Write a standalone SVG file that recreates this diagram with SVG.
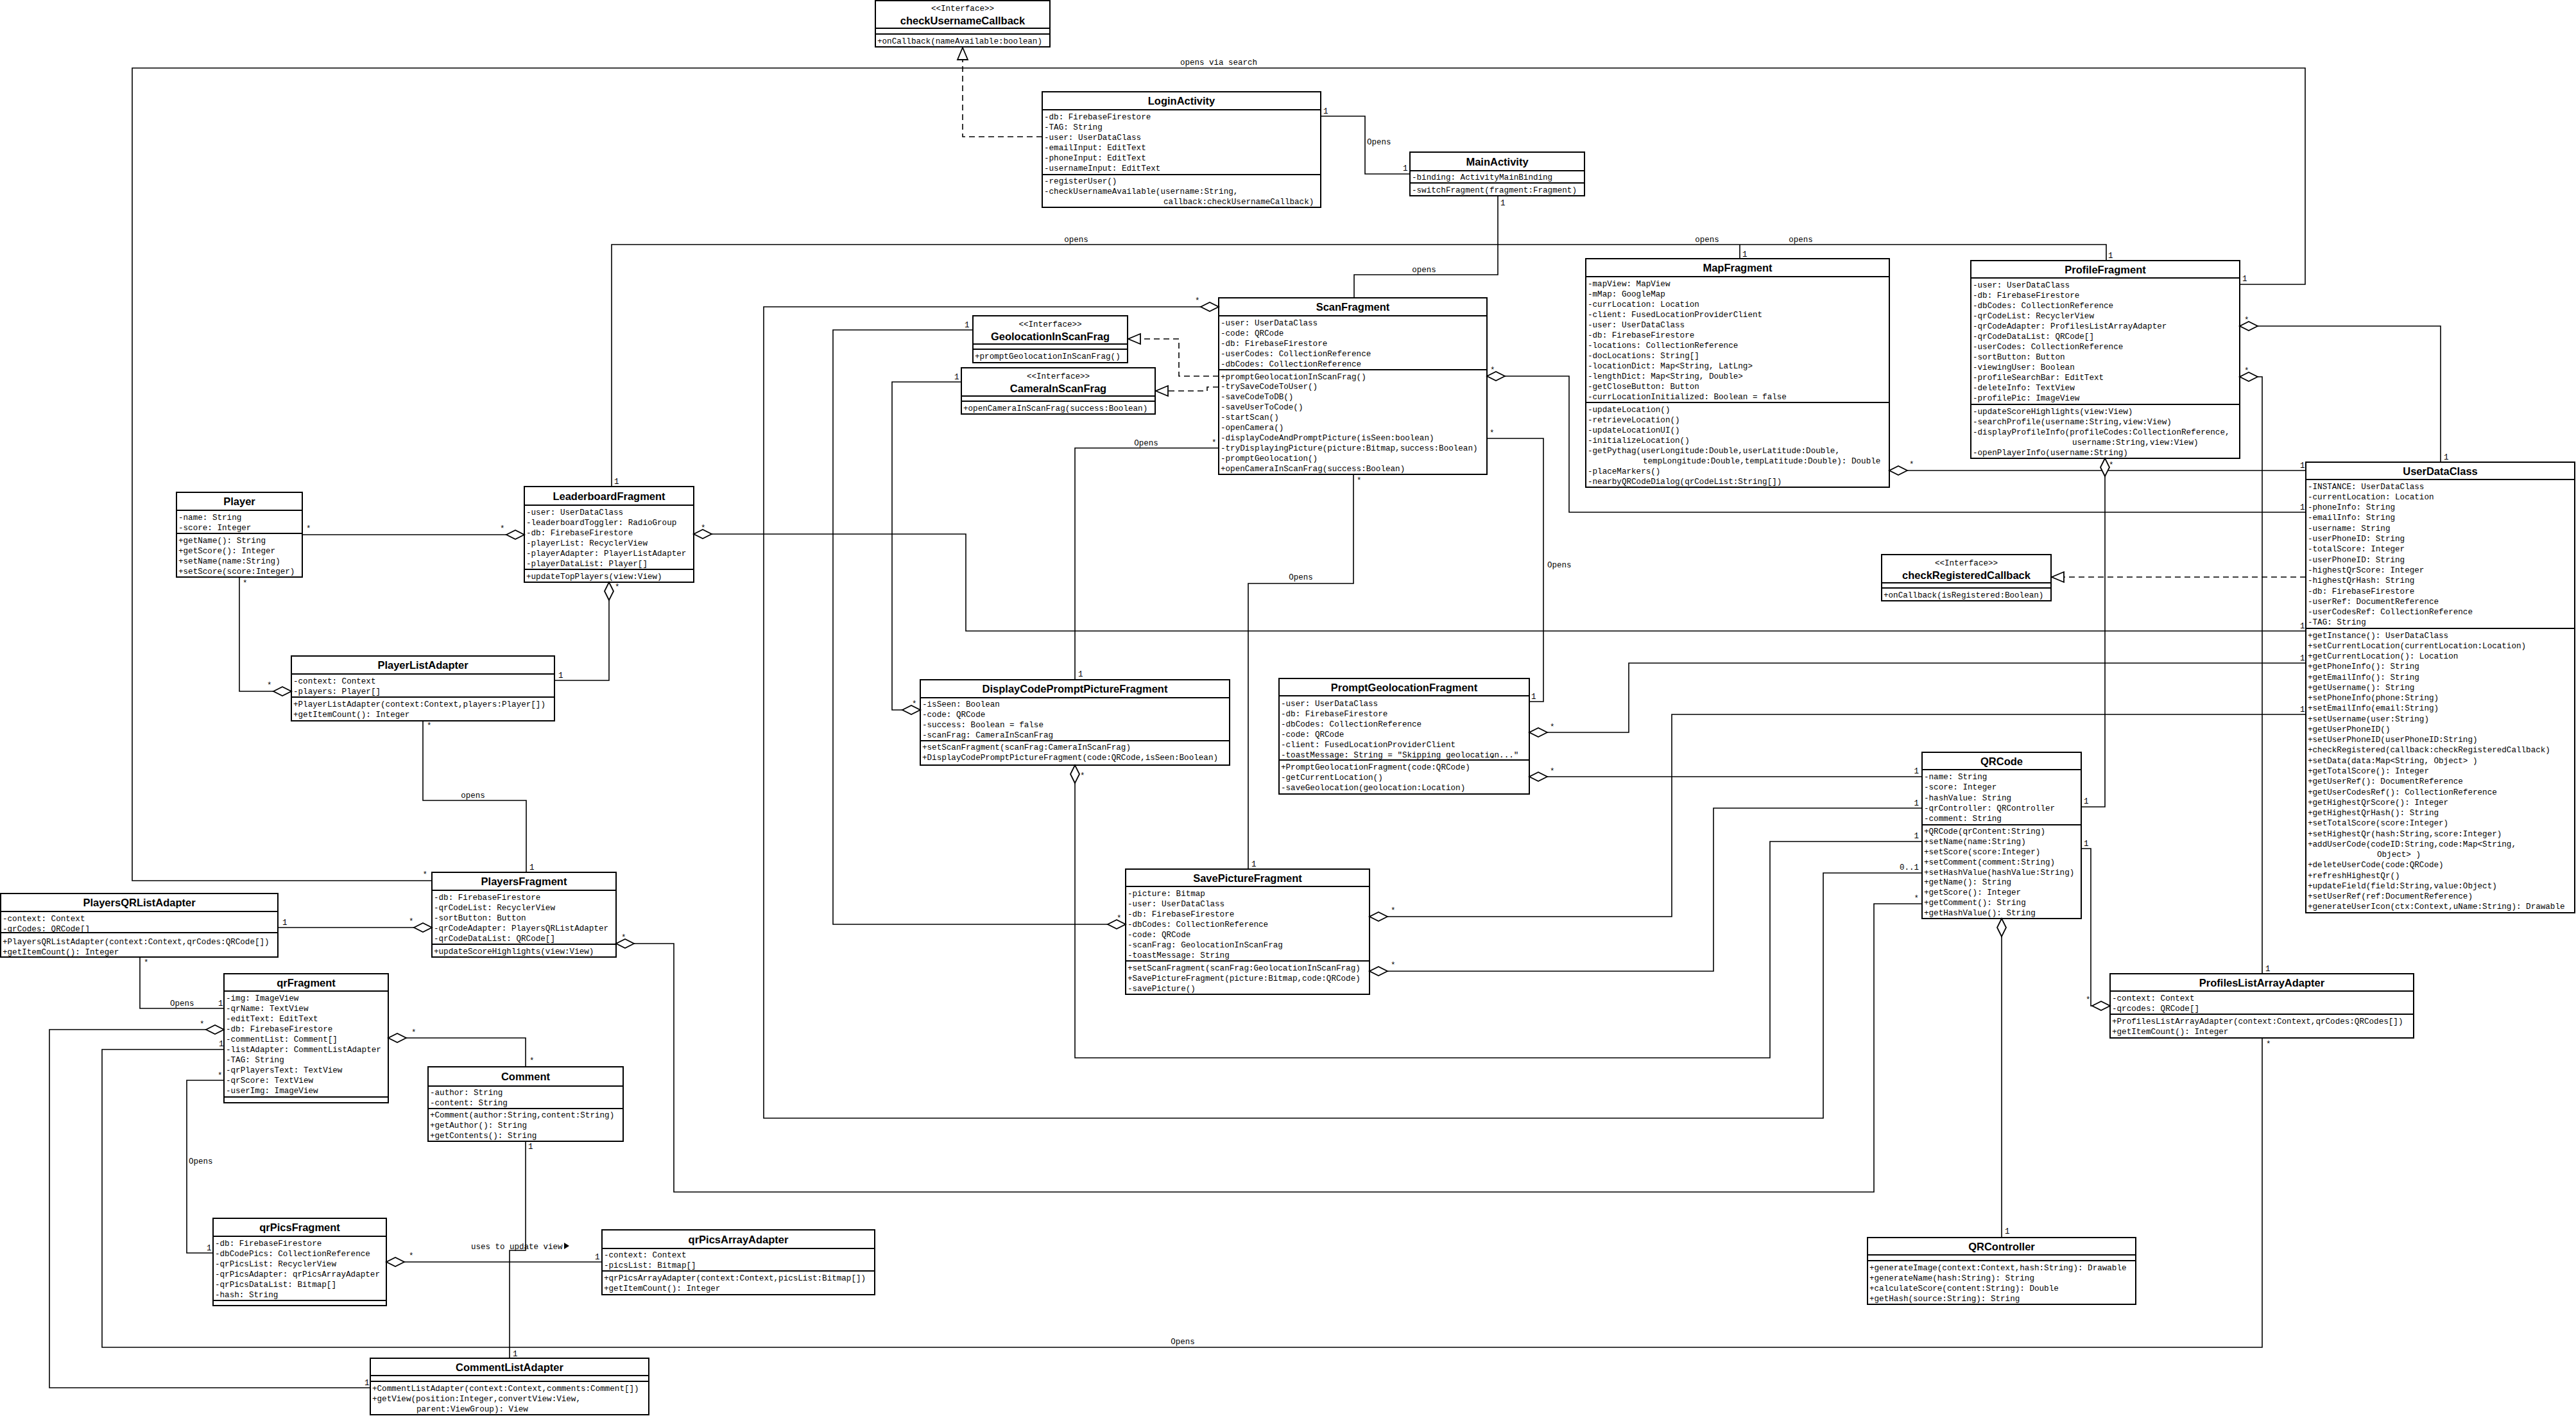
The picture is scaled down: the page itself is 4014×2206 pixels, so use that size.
<svg xmlns="http://www.w3.org/2000/svg" width="4014" height="2206" viewBox="0 0 4014 2206">
<style>
.b{fill:#fff;stroke:#000;stroke-width:2}
.s{fill:none;stroke:#000;stroke-width:2}
.t{font-family:"Liberation Sans",Arial,sans-serif;font-weight:bold;font-size:16.5px;text-anchor:middle;fill:#000}
.m{font-family:"Liberation Mono","Courier New",monospace;font-size:12.6px;fill:#000}
.st{text-anchor:middle}
.c{fill:none;stroke:#000;stroke-width:1.6}
.dash{stroke-dasharray:9 6}
.l{font-family:"Liberation Mono","Courier New",monospace;font-size:12.5px;fill:#000}
.mid{text-anchor:middle}
.end{text-anchor:end}
</style>
<defs>
<marker id="dm" markerUnits="userSpaceOnUse" markerWidth="32" markerHeight="18" refX="29" refY="8" orient="auto" overflow="visible"><path d="M1,8 L15,1 L29,8 L15,15 Z" fill="#fff" stroke="#000" stroke-width="1.8"/></marker>
<marker id="tr" markerUnits="userSpaceOnUse" markerWidth="22" markerHeight="20" refX="20" refY="9" orient="auto" overflow="visible"><path d="M1,1 L20,9 L1,17 Z" fill="#fff" stroke="#000" stroke-width="1.8"/></marker>
</defs>
<rect width="4014" height="2206" fill="#fff"/>

<g id="checkUsernameCallback">
<rect class="b" x="1364" y="1" width="272" height="72"/>
<path class="s" d="M1364 44H1636M1364 53H1636"/>
<text class="m st" x="1500" y="17">&lt;&lt;Interface&gt;&gt;</text>
<text class="t" x="1500" y="38">checkUsernameCallback</text>
<text class="m" x="1367" y="67.5">+onCallback(nameAvailable:boolean)</text>
</g>

<g id="LoginActivity">
<rect class="b" x="1624" y="143" width="434" height="180"/>
<path class="s" d="M1624 171H2058M1624 272H2058"/>
<text class="t" x="1841" y="163">LoginActivity</text>
<text class="m"><tspan x="1627" y="185.6">-db: FirebaseFirestore</tspan><tspan x="1627" dy="16.17">-TAG: String</tspan><tspan x="1627" dy="16.17">-user: UserDataClass</tspan><tspan x="1627" dy="16.17">-emailInput: EditText</tspan><tspan x="1627" dy="16.17">-phoneInput: EditText</tspan><tspan x="1627" dy="16.17">-usernameInput: EditText</tspan></text>
<text class="m"><tspan x="1627" y="286.3">-registerUser()</tspan><tspan x="1627" dy="15.7">-checkUsernameAvailable(username:String,</tspan><tspan x="1813" dy="15.7">callback:checkUsernameCallback)</tspan></text>
</g>

<g id="MainActivity">
<rect class="b" x="2197" y="237" width="272" height="68"/>
<path class="s" d="M2197 266H2469M2197 285H2469"/>
<text class="t" x="2333" y="257.5">MainActivity</text>
<text class="m" x="2200" y="280">-binding: ActivityMainBinding</text>
<text class="m" x="2200" y="299.5">-switchFragment(fragment:Fragment)</text>
</g>

<g id="ScanFragment">
<rect class="b" x="1899" y="464" width="418" height="275"/>
<path class="s" d="M1899 492H2317M1899 576H2317"/>
<text class="t" x="2108" y="484">ScanFragment</text>
<text class="m"><tspan x="1902" y="506.5">-user: UserDataClass</tspan><tspan x="1902" dy="16">-code: QRCode</tspan><tspan x="1902" dy="16">-db: FirebaseFirestore</tspan><tspan x="1902" dy="16">-userCodes: CollectionReference</tspan><tspan x="1902" dy="16">-dbCodes: CollectionReference</tspan></text>
<text class="m"><tspan x="1902" y="590.5">+promptGeolocationInScanFrag()</tspan><tspan x="1902" dy="15.9">-trySaveCodeToUser()</tspan><tspan x="1902" dy="15.9">-saveCodeToDB()</tspan><tspan x="1902" dy="15.9">-saveUserToCode()</tspan><tspan x="1902" dy="15.9">-startScan()</tspan><tspan x="1902" dy="15.9">-openCamera()</tspan><tspan x="1902" dy="15.9">-displayCodeAndPromptPicture(isSeen:boolean)</tspan><tspan x="1902" dy="15.9">-tryDisplayingPicture(picture:Bitmap,success:Boolean)</tspan><tspan x="1902" dy="15.9">-promptGeolocation()</tspan><tspan x="1902" dy="15.9">+openCameraInScanFrag(success:Boolean)</tspan></text>
</g>

<g id="GeolocationInScanFrag">
<rect class="b" x="1516" y="492" width="241" height="73"/>
<path class="s" d="M1516 536H1757M1516 544H1757"/>
<text class="m st" x="1636.5" y="509">&lt;&lt;Interface&gt;&gt;</text>
<text class="t" x="1636.5" y="530">GeolocationInScanFrag</text>
<text class="m" x="1519" y="559">+promptGeolocationInScanFrag()</text>
</g>

<g id="CameraInScanFrag">
<rect class="b" x="1498" y="573" width="302" height="72"/>
<path class="s" d="M1498 617H1800M1498 625H1800"/>
<text class="m st" x="1649" y="590">&lt;&lt;Interface&gt;&gt;</text>
<text class="t" x="1649" y="611">CameraInScanFrag</text>
<text class="m" x="1501" y="639.5">+openCameraInScanFrag(success:Boolean)</text>
</g>

<g id="MapFragment">
<rect class="b" x="2471" y="403" width="473" height="356"/>
<path class="s" d="M2471 431H2944M2471 627H2944"/>
<text class="t" x="2707.5" y="423">MapFragment</text>
<text class="m"><tspan x="2474" y="445.5">-mapView: MapView</tspan><tspan x="2474" dy="16">-mMap: GoogleMap</tspan><tspan x="2474" dy="16">-currLocation: Location</tspan><tspan x="2474" dy="16">-client: FusedLocationProviderClient</tspan><tspan x="2474" dy="16">-user: UserDataClass</tspan><tspan x="2474" dy="16">-db: FirebaseFirestore</tspan><tspan x="2474" dy="16">-locations: CollectionReference</tspan><tspan x="2474" dy="16">-docLocations: String[]</tspan><tspan x="2474" dy="16">-locationDict: Map&lt;String, LatLng&gt;</tspan><tspan x="2474" dy="16">-lengthDict: Map&lt;String, Double&gt;</tspan><tspan x="2474" dy="16">-getCloseButton: Button</tspan><tspan x="2474" dy="16">-currLocationInitialized: Boolean = false</tspan></text>
<text class="m"><tspan x="2474" y="641.5">-updateLocation()</tspan><tspan x="2474" dy="16">-retrieveLocation()</tspan><tspan x="2474" dy="16">-updateLocationUI()</tspan><tspan x="2474" dy="16">-initializeLocation()</tspan><tspan x="2474" dy="16">-getPythag(userLongitude:Double,userLatitude:Double,</tspan><tspan x="2560" dy="16">tempLongitude:Double,tempLatitude:Double): Double</tspan><tspan x="2474" dy="16">-placeMarkers()</tspan><tspan x="2474" dy="16">-nearbyQRCodeDialog(qrCodeList:String[])</tspan></text>
</g>

<g id="ProfileFragment">
<rect class="b" x="3071" y="406" width="419" height="308"/>
<path class="s" d="M3071 433H3490M3071 630H3490"/>
<text class="t" x="3280.5" y="425.5">ProfileFragment</text>
<text class="m"><tspan x="3074" y="447.5">-user: UserDataClass</tspan><tspan x="3074" dy="16.08">-db: FirebaseFirestore</tspan><tspan x="3074" dy="16.08">-dbCodes: CollectionReference</tspan><tspan x="3074" dy="16.08">-qrCodeList: RecyclerView</tspan><tspan x="3074" dy="16.08">-qrCodeAdapter: ProfilesListArrayAdapter</tspan><tspan x="3074" dy="16.08">-qrCodeDataList: QRCode[]</tspan><tspan x="3074" dy="16.08">-userCodes: CollectionReference</tspan><tspan x="3074" dy="16.08">-sortButton: Button</tspan><tspan x="3074" dy="16.08">-viewingUser: Boolean</tspan><tspan x="3074" dy="16.08">-profileSearchBar: EditText</tspan><tspan x="3074" dy="16.08">-deleteInfo: TextView</tspan><tspan x="3074" dy="16.08">-profilePic: ImageView</tspan></text>
<text class="m"><tspan x="3074" y="644.5">-updateScoreHighlights(view:View)</tspan><tspan x="3074" dy="16">-searchProfile(username:String,view:View)</tspan><tspan x="3074" dy="16">-displayProfileInfo(profileCodes:CollectionReference,</tspan><tspan x="3229" dy="16">username:String,view:View)</tspan><tspan x="3074" dy="16">-openPlayerInfo(username:String)</tspan></text>
</g>

<g id="UserDataClass">
<rect class="b" x="3593" y="720" width="419" height="702"/>
<path class="s" d="M3593 747H4012M3593 979H4012"/>
<text class="t" x="3802.5" y="739.5">UserDataClass</text>
<text class="m"><tspan x="3596" y="761.6">-INSTANCE: UserDataClass</tspan><tspan x="3596" dy="16.29">-currentLocation: Location</tspan><tspan x="3596" dy="16.29">-phoneInfo: String</tspan><tspan x="3596" dy="16.29">-emailInfo: String</tspan><tspan x="3596" dy="16.29">-username: String</tspan><tspan x="3596" dy="16.29">-userPhoneID: String</tspan><tspan x="3596" dy="16.29">-totalScore: Integer</tspan><tspan x="3596" dy="16.29">-userPhoneID: String</tspan><tspan x="3596" dy="16.29">-highestQrScore: Integer</tspan><tspan x="3596" dy="16.29">-highestQrHash: String</tspan><tspan x="3596" dy="16.29">-db: FirebaseFirestore</tspan><tspan x="3596" dy="16.29">-userRef: DocumentReference</tspan><tspan x="3596" dy="16.29">-userCodesRef: CollectionReference</tspan><tspan x="3596" dy="16.29">-TAG: String</tspan></text>
<text class="m"><tspan x="3596" y="993.6">+getInstance(): UserDataClass</tspan><tspan x="3596" dy="16.26">+setCurrentLocation(currentLocation:Location)</tspan><tspan x="3596" dy="16.26">+getCurrentLocation(): Location</tspan><tspan x="3596" dy="16.26">+getPhoneInfo(): String</tspan><tspan x="3596" dy="16.26">+getEmailInfo(): String</tspan><tspan x="3596" dy="16.26">+getUsername(): String</tspan><tspan x="3596" dy="16.26">+setPhoneInfo(phone:String)</tspan><tspan x="3596" dy="16.26">+setEmailInfo(email:String)</tspan><tspan x="3596" dy="16.26">+setUsername(user:String)</tspan><tspan x="3596" dy="16.26">+getUserPhoneID()</tspan><tspan x="3596" dy="16.26">+setUserPhoneID(userPhoneID:String)</tspan><tspan x="3596" dy="16.26">+checkRegistered(callback:checkRegisteredCallback)</tspan><tspan x="3596" dy="16.26">+setData(data:Map&lt;String, Object&gt; )</tspan><tspan x="3596" dy="16.26">+getTotalScore(): Integer</tspan><tspan x="3596" dy="16.26">+getUserRef(): DocumentReference</tspan><tspan x="3596" dy="16.26">+getUserCodesRef(): CollectionReference</tspan><tspan x="3596" dy="16.26">+getHighestQrScore(): Integer</tspan><tspan x="3596" dy="16.26">+getHighestQrHash(): String</tspan><tspan x="3596" dy="16.26">+setTotalScore(score:Integer)</tspan><tspan x="3596" dy="16.26">+setHighestQr(hash:String,score:Integer)</tspan><tspan x="3596" dy="16.26">+addUserCode(codeID:String,code:Map&lt;String,</tspan><tspan x="3704" dy="16.26">Object&gt; )</tspan><tspan x="3596" dy="16.26">+deleteUserCode(code:QRCode)</tspan><tspan x="3596" dy="16.26">+refreshHighestQr()</tspan><tspan x="3596" dy="16.26">+updateField(field:String,value:Object)</tspan><tspan x="3596" dy="16.26">+setUserRef(ref:DocumentReference)</tspan><tspan x="3596" dy="16.26">+generateUserIcon(ctx:Context,uName:String): Drawable</tspan></text>
</g>

<g id="checkRegisteredCallback">
<rect class="b" x="2932" y="864" width="264" height="72"/>
<path class="s" d="M2932 908H3196M2932 916H3196"/>
<text class="m st" x="3064" y="881">&lt;&lt;Interface&gt;&gt;</text>
<text class="t" x="3064" y="902">checkRegisteredCallback</text>
<text class="m" x="2935" y="930.5">+onCallback(isRegistered:Boolean)</text>
</g>

<g id="Player">
<rect class="b" x="275" y="767" width="196" height="132"/>
<path class="s" d="M275 795H471M275 831H471"/>
<text class="t" x="373" y="787">Player</text>
<text class="m"><tspan x="278" y="809.5">-name: String</tspan><tspan x="278" dy="16">-score: Integer</tspan></text>
<text class="m"><tspan x="278" y="845.5">+getName(): String</tspan><tspan x="278" dy="16">+getScore(): Integer</tspan><tspan x="278" dy="16">+setName(name:String)</tspan><tspan x="278" dy="16">+setScore(score:Integer)</tspan></text>
</g>

<g id="LeaderboardFragment">
<rect class="b" x="817" y="758" width="264" height="149"/>
<path class="s" d="M817 787H1081M817 887H1081"/>
<text class="t" x="949" y="778.5">LeaderboardFragment</text>
<text class="m"><tspan x="820" y="801.5">-user: UserDataClass</tspan><tspan x="820" dy="16">-leaderboardToggler: RadioGroup</tspan><tspan x="820" dy="16">-db: FirebaseFirestore</tspan><tspan x="820" dy="16">-playerList: RecyclerView</tspan><tspan x="820" dy="16">-playerAdapter: PlayerListAdapter</tspan><tspan x="820" dy="16">-playerDataList: Player[]</tspan></text>
<text class="m" x="820" y="901.5">+updateTopPlayers(view:View)</text>
</g>

<g id="PlayerListAdapter">
<rect class="b" x="454" y="1022" width="410" height="101"/>
<path class="s" d="M454 1050H864M454 1086H864"/>
<text class="t" x="659" y="1042">PlayerListAdapter</text>
<text class="m"><tspan x="457" y="1064.5">-context: Context</tspan><tspan x="457" dy="16">-players: Player[]</tspan></text>
<text class="m"><tspan x="457" y="1100.7">+PlayerListAdapter(context:Context,players:Player[])</tspan><tspan x="457" dy="16.5">+getItemCount(): Integer</tspan></text>
</g>

<g id="DisplayCodePromptPictureFragment">
<rect class="b" x="1434" y="1059" width="482" height="133"/>
<path class="s" d="M1434 1087H1916M1434 1154H1916"/>
<text class="t" x="1675" y="1079">DisplayCodePromptPictureFragment</text>
<text class="m"><tspan x="1437" y="1101.4">-isSeen: Boolean</tspan><tspan x="1437" dy="15.75">-code: QRCode</tspan><tspan x="1437" dy="15.75">-success: Boolean = false</tspan><tspan x="1437" dy="15.75">-scanFrag: CameraInScanFrag</tspan></text>
<text class="m"><tspan x="1437" y="1168">+setScanFragment(scanFrag:CameraInScanFrag)</tspan><tspan x="1437" dy="16">+DisplayCodePromptPictureFragment(code:QRCode,isSeen:Boolean)</tspan></text>
</g>

<g id="PromptGeolocationFragment">
<rect class="b" x="1993" y="1057" width="390" height="180"/>
<path class="s" d="M1993 1084H2383M1993 1184H2383"/>
<text class="t" x="2188" y="1077">PromptGeolocationFragment</text>
<text class="m"><tspan x="1996" y="1099.5">-user: UserDataClass</tspan><tspan x="1996" dy="16.1">-db: FirebaseFirestore</tspan><tspan x="1996" dy="16.1">-dbCodes: CollectionReference</tspan><tspan x="1996" dy="16.1">-code: QRCode</tspan><tspan x="1996" dy="16.1">-client: FusedLocationProviderClient</tspan><tspan x="1996" dy="16.1">-toastMessage: String = "Skipping geolocation..."</tspan></text>
<text class="m"><tspan x="1996" y="1198.5">+PromptGeolocationFragment(code:QRCode)</tspan><tspan x="1996" dy="16.3">-getCurrentLocation()</tspan><tspan x="1996" dy="16.3">-saveGeolocation(geolocation:Location)</tspan></text>
</g>

<g id="QRCode">
<rect class="b" x="2995" y="1172" width="248" height="259"/>
<path class="s" d="M2995 1199H3243M2995 1285H3243"/>
<text class="t" x="3119" y="1191.5">QRCode</text>
<text class="m"><tspan x="2998" y="1213.7">-name: String</tspan><tspan x="2998" dy="16.4">-score: Integer</tspan><tspan x="2998" dy="16.4">-hashValue: String</tspan><tspan x="2998" dy="16.4">-qrController: QRController</tspan><tspan x="2998" dy="16.4">-comment: String</tspan></text>
<text class="m"><tspan x="2998" y="1299.4">+QRCode(qrContent:String)</tspan><tspan x="2998" dy="15.8">+setName(name:String)</tspan><tspan x="2998" dy="15.8">+setScore(score:Integer)</tspan><tspan x="2998" dy="15.8">+setComment(comment:String)</tspan><tspan x="2998" dy="15.8">+setHashValue(hashValue:String)</tspan><tspan x="2998" dy="15.8">+getName(): String</tspan><tspan x="2998" dy="15.8">+getScore(): Integer</tspan><tspan x="2998" dy="15.8">+getComment(): String</tspan><tspan x="2998" dy="15.8">+getHashValue(): String</tspan></text>
</g>

<g id="SavePictureFragment">
<rect class="b" x="1754" y="1354" width="380" height="195"/>
<path class="s" d="M1754 1381H2134M1754 1497H2134"/>
<text class="t" x="1944" y="1373.5">SavePictureFragment</text>
<text class="m"><tspan x="1757" y="1395.5">-picture: Bitmap</tspan><tspan x="1757" dy="16">-user: UserDataClass</tspan><tspan x="1757" dy="16">-db: FirebaseFirestore</tspan><tspan x="1757" dy="16">-dbCodes: CollectionReference</tspan><tspan x="1757" dy="16">-code: QRCode</tspan><tspan x="1757" dy="16">-scanFrag: GeolocationInScanFrag</tspan><tspan x="1757" dy="16">-toastMessage: String</tspan></text>
<text class="m"><tspan x="1757" y="1511.5">+setScanFragment(scanFrag:GeolocationInScanFrag)</tspan><tspan x="1757" dy="16">+SavePictureFragment(picture:Bitmap,code:QRCode)</tspan><tspan x="1757" dy="16">-savePicture()</tspan></text>
</g>

<g id="PlayersQRListAdapter">
<rect class="b" x="1" y="1392" width="432" height="99"/>
<path class="s" d="M1 1420H433M1 1453H433"/>
<text class="t" x="217" y="1412">PlayersQRListAdapter</text>
<text class="m"><tspan x="4" y="1434.7">-context: Context</tspan><tspan x="4" dy="16">-qrCodes: QRCode[]</tspan></text>
<text class="m"><tspan x="4" y="1470.7">+PlayersQRListAdapter(context:Context,qrCodes:QRCode[])</tspan><tspan x="4" dy="16">+getItemCount(): Integer</tspan></text>
</g>

<g id="PlayersFragment">
<rect class="b" x="673" y="1359" width="287" height="132"/>
<path class="s" d="M673 1387H960M673 1471H960"/>
<text class="t" x="816.5" y="1379">PlayersFragment</text>
<text class="m"><tspan x="676" y="1401.5">-db: FirebaseFirestore</tspan><tspan x="676" dy="16">-qrCodeList: RecyclerView</tspan><tspan x="676" dy="16">-sortButton: Button</tspan><tspan x="676" dy="16">-qrCodeAdapter: PlayersQRListAdapter</tspan><tspan x="676" dy="16">-qrCodeDataList: QRCode[]</tspan></text>
<text class="m" x="676" y="1485.5">+updateScoreHighlights(view:View)</text>
</g>

<g id="ProfilesListArrayAdapter">
<rect class="b" x="3288" y="1517" width="473" height="100"/>
<path class="s" d="M3288 1544H3761M3288 1580H3761"/>
<text class="t" x="3524.5" y="1536.5">ProfilesListArrayAdapter</text>
<text class="m"><tspan x="3291" y="1558.5">-context: Context</tspan><tspan x="3291" dy="16">-qrcodes: QRCode[]</tspan></text>
<text class="m"><tspan x="3291" y="1594.7">+ProfilesListArrayAdapter(context:Context,qrCodes:QRCodes[])</tspan><tspan x="3291" dy="16">+getItemCount(): Integer</tspan></text>
</g>

<g id="qrFragment">
<rect class="b" x="349" y="1517" width="256" height="201"/>
<path class="s" d="M349 1544H605M349 1709H605"/>
<text class="t" x="477" y="1536.5">qrFragment</text>
<text class="m"><tspan x="352" y="1558.5">-img: ImageView</tspan><tspan x="352" dy="16.1">-qrName: TextView</tspan><tspan x="352" dy="16.1">-editText: EditText</tspan><tspan x="352" dy="16.1">-db: FirebaseFirestore</tspan><tspan x="352" dy="16.1">-commentList: Comment[]</tspan><tspan x="352" dy="16.1">-listAdapter: CommentListAdapter</tspan><tspan x="352" dy="16.1">-TAG: String</tspan><tspan x="352" dy="16.1">-qrPlayersText: TextView</tspan><tspan x="352" dy="16.1">-qrScore: TextView</tspan><tspan x="352" dy="16.1">-userImg: ImageView</tspan></text>
</g>

<g id="Comment">
<rect class="b" x="667" y="1662" width="304" height="116"/>
<path class="s" d="M667 1692H971M667 1727H971"/>
<text class="t" x="819" y="1683">Comment</text>
<text class="m"><tspan x="670" y="1706.3">-author: String</tspan><tspan x="670" dy="15.5">-content: String</tspan></text>
<text class="m"><tspan x="670" y="1741.3">+Comment(author:String,content:String)</tspan><tspan x="670" dy="15.7">+getAuthor(): String</tspan><tspan x="670" dy="15.7">+getContents(): String</tspan></text>
</g>

<g id="qrPicsFragment">
<rect class="b" x="332" y="1898" width="270" height="136"/>
<path class="s" d="M332 1926H602M332 2026H602"/>
<text class="t" x="467" y="1918">qrPicsFragment</text>
<text class="m"><tspan x="335" y="1940.5">-db: FirebaseFirestore</tspan><tspan x="335" dy="16">-dbCodePics: CollectionReference</tspan><tspan x="335" dy="16">-qrPicsList: RecyclerView</tspan><tspan x="335" dy="16">-qrPicsAdapter: qrPicsArrayAdapter</tspan><tspan x="335" dy="16">-qrPicsDataList: Bitmap[]</tspan><tspan x="335" dy="16">-hash: String</tspan></text>
</g>

<g id="qrPicsArrayAdapter">
<rect class="b" x="938" y="1916" width="425" height="101"/>
<path class="s" d="M938 1945H1363M938 1980H1363"/>
<text class="t" x="1150.5" y="1936.5">qrPicsArrayAdapter</text>
<text class="m"><tspan x="941" y="1959.3">-context: Context</tspan><tspan x="941" dy="15.5">-picsList: Bitmap[]</tspan></text>
<text class="m"><tspan x="941" y="1994.7">+qrPicsArrayAdapter(context:Context,picsList:Bitmap[])</tspan><tspan x="941" dy="16.5">+getItemCount(): Integer</tspan></text>
</g>

<g id="QRController">
<rect class="b" x="2910" y="1928" width="418" height="104"/>
<path class="s" d="M2910 1955H3328M2910 1964H3328"/>
<text class="t" x="3119" y="1947.5">QRController</text>
<text class="m"><tspan x="2913" y="1978.5">+generateImage(context:Context,hash:String): Drawable</tspan><tspan x="2913" dy="16">+generateName(hash:String): String</tspan><tspan x="2913" dy="16">+calculateScore(content:String): Double</tspan><tspan x="2913" dy="16">+getHash(source:String): String</tspan></text>
</g>

<g id="CommentListAdapter">
<rect class="b" x="577" y="2116" width="434" height="88"/>
<path class="s" d="M577 2143H1011M577 2152H1011"/>
<text class="t" x="794" y="2135.5">CommentListAdapter</text>
<text class="m"><tspan x="580" y="2166.7">+CommentListAdapter(context:Context,comments:Comment[])</tspan><tspan x="580" dy="16.3">+getView(position:Integer,convertView:View,</tspan><tspan x="649" dy="16.3">parent:ViewGroup): View</tspan></text>
</g>

<g id="connectors">
<path class="c" d="M673,1372H206V106H3592V443H3490"/>
<path class="c dash" d="M1624,213H1500V74" marker-end="url(#tr)"/>
<path class="c" d="M2058,181H2127V271H2197"/>
<path class="c" d="M2334,305V428H2110V464"/>
<path class="c" d="M953,758V381H3282V406M2711,381V403"/>
<path class="c dash" d="M1899,586H1837V528H1758" marker-end="url(#tr)"/>
<path class="c dash" d="M1899,603H1881V609H1801" marker-end="url(#tr)"/>
<path class="c" d="M1516,514H1298V1440H1754" marker-end="url(#dm)"/>
<path class="c" d="M1498,595H1390V1106H1434" marker-end="url(#dm)"/>
<path class="c" d="M2995,1360H2841V1742H1190V478H1899" marker-end="url(#dm)"/>
<path class="c" d="M1899,698H1675V1059"/>
<path class="c" d="M2109,739V909H1945V1354"/>
<path class="c" d="M2317,683H2405V1093H2383"/>
<path class="c" d="M3593,798H2445V586H2317" marker-end="url(#dm)"/>
<path class="c" d="M3593,733H2944" marker-end="url(#dm)"/>
<path class="c" d="M3803,720V508H3490" marker-end="url(#dm)"/>
<path class="c" d="M3525,1517V587H3490" marker-end="url(#dm)"/>
<path class="c" d="M3243,1257H3280V714" marker-end="url(#dm)"/>
<path class="c" d="M3243,1322H3258V1567H3288" marker-end="url(#dm)"/>
<path class="c" d="M3525,1617V2099H159V1635H349"/>
<path class="c" d="M3119,1928V1431" marker-end="url(#dm)"/>
<path class="c dash" d="M3593,899H3197" marker-end="url(#tr)"/>
<path class="c" d="M3593,983H1505V832H1081" marker-end="url(#dm)"/>
<path class="c" d="M3593,1033H2538V1141H2383" marker-end="url(#dm)"/>
<path class="c" d="M2995,1210H2383" marker-end="url(#dm)"/>
<path class="c" d="M3593,1113H2605V1428H2134" marker-end="url(#dm)"/>
<path class="c" d="M2995,1259H2670V1513H2134" marker-end="url(#dm)"/>
<path class="c" d="M2995,1311H2758V1648H1675V1192" marker-end="url(#dm)"/>
<path class="c" d="M2995,1408H2920V1857H1050V1470H960" marker-end="url(#dm)"/>
<path class="c" d="M433,1445H673" marker-end="url(#dm)"/>
<path class="c" d="M218,1491V1571H349"/>
<path class="c" d="M659,1123V1247H820V1359"/>
<path class="c" d="M471,833H817" marker-end="url(#dm)"/>
<path class="c" d="M373,899V1077H454" marker-end="url(#dm)"/>
<path class="c" d="M864,1060H949V907" marker-end="url(#dm)"/>
<path class="c" d="M577,2162H77V1604H349" marker-end="url(#dm)"/>
<path class="c" d="M332,1952H291V1683H349"/>
<path class="c" d="M819,1662V1617H605" marker-end="url(#dm)"/>
<path class="c" d="M819,1778V1948H794V2116"/>
<path class="c" d="M938,1966H602" marker-end="url(#dm)"/>
<polygon points="879,1936 887,1941 879,1946" fill="#000"/>
<g class="l">
<text class="mid" x="1899" y="101">opens via search</text>
<text class="end" x="666" y="1366">*</text>
<text x="3494" y="438">1</text>
<text x="2062" y="177">1</text>
<text x="2186" y="266">1</text>
<text x="2130" y="225">Opens</text>
<text x="2338" y="320">1</text>
<text class="mid" x="2219" y="424">opens</text>
<text class="mid" x="1677" y="377">opens</text>
<text class="mid" x="2660" y="377">opens</text>
<text class="mid" x="2806" y="377">opens</text>
<text x="957" y="754">1</text>
<text x="2715" y="400">1</text>
<text x="3285" y="402">1</text>
<text x="1503" y="510">1</text>
<text x="1740" y="1434">*</text>
<text x="1487" y="591">1</text>
<text x="1421" y="1100">*</text>
<text class="end" x="2990" y="1355">0..1</text>
<text x="1862" y="472">*</text>
<text x="1888" y="693">*</text>
<text class="mid" x="1786" y="694">Opens</text>
<text x="1680" y="1054">1</text>
<text x="2114" y="752">*</text>
<text class="mid" x="2027" y="903">Opens</text>
<text x="1950" y="1350">1</text>
<text x="2321" y="678">*</text>
<text x="2411" y="884">Opens</text>
<text x="2386" y="1089">1</text>
<text x="3584" y="794">1</text>
<text x="2322" y="580">*</text>
<text x="2975" y="727">*</text>
<text x="3584" y="729">1</text>
<text x="3497" y="502">*</text>
<text x="3808" y="716">1</text>
<text x="3497" y="581">*</text>
<text x="3530" y="1513">1</text>
<text x="3286" y="728">*</text>
<text x="3247" y="1252">1</text>
<text x="3250" y="1561">*</text>
<text x="3247" y="1318">1</text>
<text x="3531" y="1630">*</text>
<text class="mid" x="1843" y="2094">Opens</text>
<text x="341" y="1630">1</text>
<text x="3124" y="1922">1</text>
<text x="3584" y="979">1</text>
<text x="1092" y="826">*</text>
<text x="3584" y="1029">1</text>
<text x="2415" y="1136">*</text>
<text class="end" x="2990" y="1205">1</text>
<text x="2415" y="1205">*</text>
<text x="2322" y="1186">*</text>
<text x="3584" y="1109">1</text>
<text x="2167" y="1422">*</text>
<text class="end" x="2990" y="1255">1</text>
<text x="2167" y="1507">*</text>
<text class="end" x="2990" y="1306">1</text>
<text x="1683" y="1212">*</text>
<text class="end" x="2990" y="1403">*</text>
<text x="968" y="1464">*</text>
<text x="440" y="1441">1</text>
<text x="637" y="1439">*</text>
<text x="224" y="1503">*</text>
<text x="265" y="1567">Opens</text>
<text x="340" y="1567">1</text>
<text x="665" y="1134">*</text>
<text class="mid" x="737" y="1243">opens</text>
<text x="825" y="1355">1</text>
<text x="477" y="827">*</text>
<text x="779" y="827">*</text>
<text x="378" y="912">*</text>
<text x="416" y="1071">*</text>
<text x="870" y="1056">1</text>
<text x="958" y="918">*</text>
<text x="568" y="2158">1</text>
<text x="311" y="1599">*</text>
<text x="322" y="1948">1</text>
<text x="339" y="1679">*</text>
<text x="294" y="1813">Opens</text>
<text x="641" y="1612">*</text>
<text x="825" y="1656">*</text>
<text x="823" y="1790">1</text>
<text x="799" y="2113">1</text>
<text x="734" y="1946">uses to update view</text>
<text x="637" y="1960">*</text>
<text x="927" y="1962">1</text>
</g>
</g>
</svg>
